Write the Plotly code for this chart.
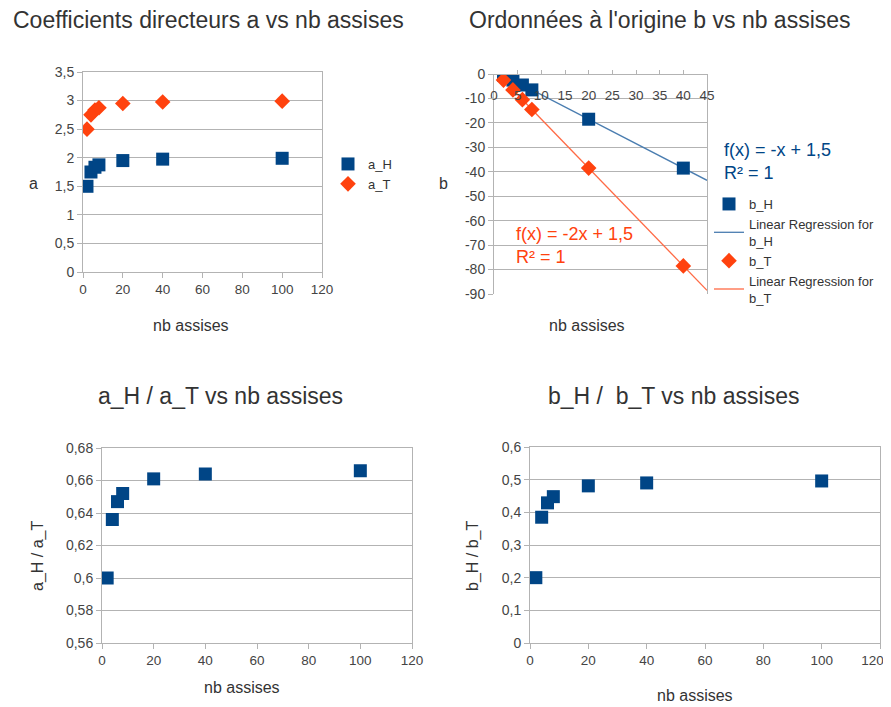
import numpy as np
import plotly.graph_objects as go

# données
nb_assises = [2, 4, 6, 8, 20, 40, 100]
a_H = [1.5, 1.75, 1.833, 1.875, 1.95, 1.975, 1.99]
a_T = [2.5, 2.75, 2.833, 2.875, 2.95, 2.975, 2.99]

nb_assises_b = [2, 4, 6, 8, 20, 40]
b_H = [-0.5, -2.5, -4.5, -6.5, -18.5, -38.5]
b_T = [-2.5, -6.5, -10.5, -14.5, -38.5, -78.5]

ratio_a = [0.6, 0.636, 0.647, 0.652, 0.661, 0.664, 0.666]
ratio_b = [0.2, 0.385, 0.429, 0.448, 0.481, 0.490, 0.496]

b_ticks = [0, -10, -20, -30, -40, -50, -60, -70, -80, -90]
b_ticktext = ["0", "-10", "-20", "-30", "-40", "-50", "-60", "-70", "-80", "-90"]

# dernier libellé décalé vers la gauche pour rester dans la page
x_ticks = [0, 20, 40, 60, 80, 100, 120]
x_ticktext_right = ["0", "20", "40", "60", "80", "100", "120&nbsp;&nbsp;&nbsp;&nbsp;"]

BLUE = "#004586"
ORANGE = "#ff420e"
GRID = "#b3b3b3"
TXT = "#333333"
FONT = "Liberation Sans"

# la page a une marge de 8 px : on travaille en pixels écran
OFF = 8
W, H = 891 - OFF, 707 - OFF


def px(x):
    return (x - OFF) / W


def py(y):
    return 1 - (y - OFF) / H


def dom_x(left, right):
    return [px(left), px(right)]


def dom_y(top, bottom):
    return [py(bottom), py(top)]


fig = go.Figure()

# --- graphique 1 : a vs nb assises
fig.add_trace(go.Scatter(x=nb_assises, y=a_H, mode="markers", name="a_H",
                         marker=dict(symbol="square", size=13, color=BLUE),
                         xaxis="x", yaxis="y", legend="legend"))
fig.add_trace(go.Scatter(x=nb_assises, y=a_T, mode="markers", name="a_T",
                         marker=dict(symbol="diamond", size=12, color=ORANGE),
                         xaxis="x", yaxis="y", legend="legend"))

# --- graphique 2 : b vs nb assises + régressions
cH = np.polyfit(nb_assises_b, b_H, 1)
cT = np.polyfit(nb_assises_b, b_T, 1)
xfit = np.array([0, 45])
fig.add_trace(go.Scatter(x=xfit, y=np.polyval(cH, xfit), mode="lines",
                         name="Linear Regression for<br>b_H", legendrank=2,
                         line=dict(color="#4a7db0", width=1.3),
                         xaxis="x2", yaxis="y2", legend="legend2"))
fig.add_trace(go.Scatter(x=xfit, y=np.polyval(cT, xfit), mode="lines",
                         name="Linear Regression for<br>b_T", legendrank=4,
                         line=dict(color="#ff6a45", width=1.3),
                         xaxis="x2", yaxis="y2", legend="legend2"))
fig.add_trace(go.Scatter(x=nb_assises_b, y=b_H, mode="markers", name="b_H", legendrank=1,
                         marker=dict(symbol="square", size=13, color=BLUE),
                         xaxis="x2", yaxis="y2", legend="legend2"))
fig.add_trace(go.Scatter(x=nb_assises_b, y=b_T, mode="markers", name="b_T", legendrank=3,
                         marker=dict(symbol="diamond", size=12, color=ORANGE),
                         xaxis="x2", yaxis="y2", legend="legend2"))

# --- graphiques 3 et 4 : rapports
fig.add_trace(go.Scatter(x=nb_assises, y=ratio_a, mode="markers", showlegend=False,
                         marker=dict(symbol="square", size=13, color=BLUE),
                         xaxis="x3", yaxis="y3"))
fig.add_trace(go.Scatter(x=nb_assises, y=ratio_b, mode="markers", showlegend=False,
                         marker=dict(symbol="square", size=13, color=BLUE),
                         xaxis="x4", yaxis="y4"))

ax = dict(showline=True, linecolor=GRID, linewidth=1, mirror=True, automargin=False,
          showgrid=False, zeroline=False, ticks="outside", ticklen=5,
          tickcolor=GRID, tickfont=dict(size=13.5, color="#444"),
          ticklabeloverflow="allow")
ay = dict(showline=True, linecolor=GRID, linewidth=1, mirror=True, automargin=False,
          showgrid=True, gridcolor=GRID, zeroline=False, ticks="outside",
          ticklen=5, tickcolor=GRID, tickfont=dict(size=14, color="#444"))

fig.update_layout(
    template="none",
    width=W, height=H,
    margin=dict(l=0, r=0, t=0, b=0, autoexpand=False),
    paper_bgcolor="white", plot_bgcolor="white",
    font=dict(family=FONT, color=TXT),
    separators=", ",
    xaxis=dict(ax, domain=dom_x(83, 322), range=[0, 120], dtick=20, anchor="y"),
    yaxis=dict(ay, domain=dom_y(72, 272), range=[0, 3.5], dtick=0.5, anchor="x"),
    # axe x du graphique b : croise en y = 0 (en haut), étiquettes dessous
    xaxis2=dict(ax, domain=dom_x(494, 707), range=[0, 45], dtick=5,
                anchor="free", position=py(74), side="bottom", ticks="inside",
                ticklen=4, mirror=False, ticklabelstandoff=9),
    yaxis2=dict(ay, domain=dom_y(74, 294), range=[-90, 0], tickvals=b_ticks,
                ticktext=b_ticktext, anchor="x2"),
    xaxis3=dict(ax, domain=dom_x(102, 412), range=[0, 120], dtick=20, anchor="y3"),
    yaxis3=dict(ay, domain=dom_y(448, 643), range=[0.56, 0.68], dtick=0.02, anchor="x3"),
    xaxis4=dict(ax, domain=dom_x(530, 880), range=[0, 120], tickvals=x_ticks,
                ticktext=x_ticktext_right, anchor="y4"),
    yaxis4=dict(ay, domain=dom_y(447, 643), range=[0, 0.6], dtick=0.1, anchor="x4"),
    legend=dict(x=px(328), y=py(149), xanchor="left", yanchor="top",
                font=dict(size=13, color=TXT), bgcolor="rgba(0,0,0,0)",
                tracegroupgap=0),
    legend2=dict(x=px(709), y=py(189), xanchor="left", yanchor="top",
                 font=dict(size=13, color=TXT), bgcolor="rgba(0,0,0,0)",
                 tracegroupgap=0),
)

annots = [
    # titres
    dict(text="Coefficients directeurs a vs nb assises", x=px(208), y=py(20), size=23),
    dict(text="Ordonnées à l'origine b vs nb assises", x=px(660), y=py(20), size=23),
    dict(text="a_H / a_T vs nb assises", x=px(220), y=py(396), size=23),
    dict(text="b_H /  b_T vs nb assises", x=px(673), y=py(396), size=23),
    # titres des axes
    dict(text="a", x=px(33), y=py(183), size=16),
    dict(text="nb assises", x=px(191), y=py(325), size=16),
    dict(text="b", x=px(443), y=py(183), size=16),
    dict(text="nb assises", x=px(587), y=py(325), size=16),
    dict(text="nb assises", x=px(242), y=py(687), size=16),
    dict(text="nb assises", x=px(695), y=py(695), size=16),
    dict(text="a_H / a_T", x=px(38), y=py(556), size=16, angle=-90),
    dict(text="b_H / b_T", x=px(473), y=py(556), size=16, angle=-90),
]
for a in annots:
    fig.add_annotation(text=a["text"].replace("  ", "&nbsp; "), x=a["x"], y=a["y"],
                       xref="paper", yref="paper", xanchor="center", yanchor="middle",
                       showarrow=False, textangle=a.get("angle", 0),
                       font=dict(size=a["size"], color=TXT, family=FONT))

# équations des régressions
eqs = [
    ("f(x) = -x + 1,5<br>R² = 1", BLUE, 722, 161),
    ("f(x) = -2x + 1,5<br>R² = 1", ORANGE, 514, 246),
]
for txt, col, x0, y0 in eqs:
    fig.add_annotation(text=txt, x=px(x0), y=py(y0), xref="paper", yref="paper",
                       xanchor="left", yanchor="middle", align="left", showarrow=False,
                       font=dict(size=18, color=col, family=FONT))

fig.write_html("out.html")
